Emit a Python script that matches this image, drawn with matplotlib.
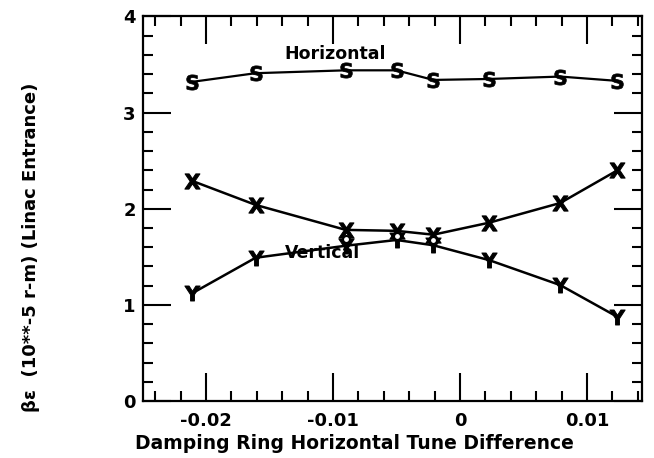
import numpy as np
import matplotlib as mpl
mpl.use('Agg')
import matplotlib.pyplot as plt
from matplotlib.ticker import MultipleLocator

# tune difference (x) for all series
tune = [-0.0211, -0.0161, -0.0090, -0.0050, -0.0021, 0.0023, 0.0079, 0.0124]
horiz = [3.32, 3.41, 3.44, 3.44, 3.34, 3.35, 3.375, 3.33]   # S
vert_x = [2.29, 2.04, 1.78, 1.77, 1.73, 1.855, 2.06, 2.40]  # X
vert_y = [1.12, 1.49, 1.615, 1.675, 1.62, 1.465, 1.205, 0.875]  # Y
# extra open markers near the crossing
extra_x = [-0.0090, -0.0050, -0.0021]
extra_y = [1.69, 1.715, 1.675]

xticks = [-0.02, -0.01, 0, 0.01]
xticklabels = ['-0.02', '-0.01', '0', '0.01']
yticks = [0, 1, 2, 3, 4]

plt.rcParams['font.family'] = ['DejaVu Sans']
plt.rcParams['font.weight'] = 'bold'
plt.rcParams['axes.labelweight'] = 'bold'
plt.rcParams['mathtext.fontset'] = 'dejavusans'

fig = plt.figure(figsize=(6.54, 4.58), dpi=100)
ax = fig.add_axes([0.218, 0.1245, 0.763, 0.8395])

ax.plot(tune, horiz, color='black', lw=1.6, marker=r'$\mathsf{S}$', ms=11, mew=0.5)
ax.plot(tune, vert_x, color='black', lw=1.8, marker=r'$\mathsf{X}$', ms=11, mew=0.7)
ax.plot(tune, vert_y, color='black', lw=1.8, marker=r'$\mathsf{Y}$', ms=11, mew=0.7)
ax.plot(extra_x, extra_y, ls='none', marker='o', ms=5, mfc='white', mec='black', mew=1.5)

ax.text(-0.0098, 3.61, 'Horizontal', fontsize=12.5, ha='center', va='center')
ax.text(-0.0108, 1.54, 'Vertical', fontsize=12.5, ha='center', va='center')

ax.set_xlim(-0.025, 0.0143)
ax.set_ylim(0, 4)
ax.set_xticks(xticks)
ax.set_xticklabels(xticklabels)
ax.set_yticks(yticks)
ax.xaxis.set_minor_locator(MultipleLocator(0.002))
ax.yaxis.set_minor_locator(MultipleLocator(0.2))
ax.tick_params(which='both', direction='in', top=True, right=True, labelsize=13, width=1.5)
ax.tick_params(which='major', length=20)
ax.tick_params(axis='x', which='major', pad=8)
ax.tick_params(axis='y', which='major', pad=5)
ax.tick_params(which='minor', length=7)
for s in ax.spines.values():
    s.set_linewidth(1.6)

ax.set_xlabel('Damping Ring Horizontal Tune Difference', fontsize=13.5)
ax.xaxis.set_label_coords(0.425, -0.085)
ax.set_ylabel('βε  (10**-5 r-m) (Linac Entrance)', fontsize=13)
ax.yaxis.set_label_coords(-0.205, 0.40)

fig.savefig('out.png', dpi=100)
